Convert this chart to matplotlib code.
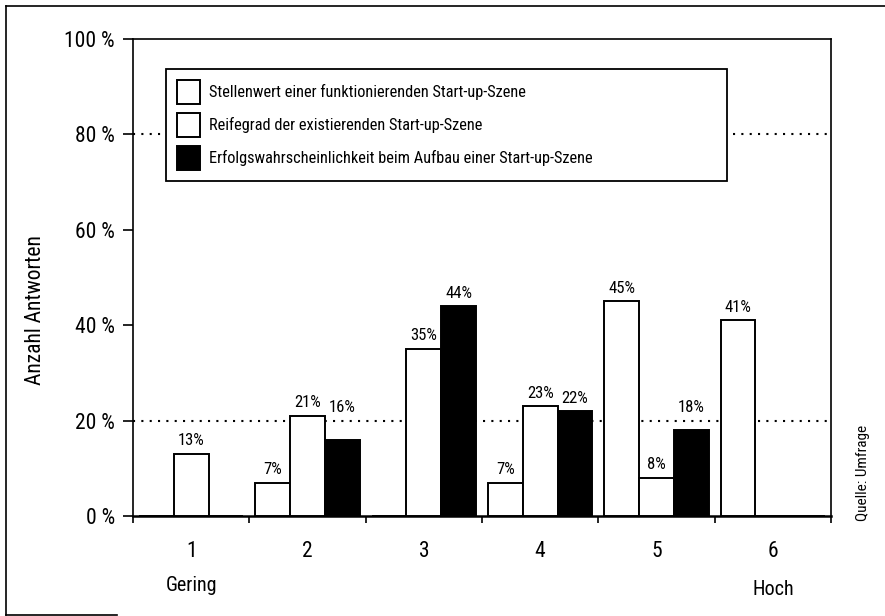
import matplotlib
matplotlib.use('Agg')
import matplotlib.pyplot as plt
from matplotlib.lines import Line2D
import numpy as np

groups = ['1', '2', '3', '4', '5', '6']
stellenwert = [0, 7, 0, 7, 45, 41]   # Stellenwert einer funktionierenden Start-up-Szene
reifegrad = [13, 21, 35, 23, 8, 0]   # Reifegrad der existierenden Start-up-Szene
erfolg = [0, 16, 44, 22, 18, 0]      # Erfolgswahrscheinlichkeit beim Aufbau
series_labels = ['Stellenwert einer funktionierenden Start-up-Szene',
                 'Reifegrad der existierenden Start-up-Szene',
                 'Erfolgswahrscheinlichkeit beim Aufbau einer Start-up-Szene']
y_ticks = [0, 20, 40, 60, 80, 100]
y_ticklabels = ['0 %', '20 %', '40 %', '60 %', '80 %', '100 %']

plt.rcParams['font.family'] = ['Roboto Condensed', 'Liberation Sans', 'DejaVu Sans']

fig = plt.figure(figsize=(8.85, 6.16), dpi=100)
ax = fig.add_axes([133 / 885, 1 - 516 / 616, 698 / 885, 477 / 616])

x = np.arange(1, len(groups) + 1)
w = 0.298
all_series = [stellenwert, reifegrad, erfolg]
colors = ['white', 'white', 'black']
offsets = [-w, 0, w]
for vals, col, off, lab in zip(all_series, colors, offsets, series_labels):
    ax.bar(x + off, vals, w, color=col, edgecolor='black', linewidth=1.4, label=lab, zorder=3)
    for xi, v in zip(x, vals):
        if v == 0:
            continue
        yv = v
        if 14 <= v < 20:  # Beschriftung über die gepunktete Linie setzen
            yv = 20
        ax.annotate('%d%%' % v, (xi + off, yv), xytext=(0, 4), textcoords='offset points',
                    ha='center', va='bottom', fontsize=12, zorder=4)

# gepunktete Hilfslinien
for gy in [20, 80]:
    ax.axhline(gy, color='black', linewidth=1.5, linestyle=(0, (1, 3)), zorder=1)

ax.set_xlim(0.5, 6.5)
ax.set_ylim(0, 100)
ax.set_yticks(y_ticks)
ax.set_yticklabels(y_ticklabels, fontsize=15.5)
ax.set_xticks(np.arange(0.5, 7, 1))
ax.set_xticklabels([])
ax.set_xticks(x, minor=True)
ax.set_xticklabels(groups, minor=True, fontsize=15.5)
ax.tick_params(axis='x', which='major', length=5, width=1.2, direction='out')
ax.tick_params(axis='x', which='minor', length=0, pad=18)
ax.tick_params(axis='y', length=7, width=1.2, direction='out', pad=6)
ax.set_ylabel('Anzahl Antworten', fontsize=15.5)
ax.yaxis.set_label_coords(-0.125, 0.432)

for side in ['top', 'right', 'left']:
    ax.spines[side].set_linewidth(1.2)
ax.spines['bottom'].set_linewidth(1.8)

ax.text(1, -0.145, 'Gering', transform=ax.get_xaxis_transform(), ha='center', va='center', fontsize=14.5)
ax.text(6, -0.155, 'Hoch', transform=ax.get_xaxis_transform(), ha='center', va='center', fontsize=14.5)

leg = ax.legend(loc='upper left', bbox_to_anchor=(33 / 698, 447 / 477 - 0.01, 561 / 698, 0.01),
                mode='expand', borderaxespad=0, fancybox=False, frameon=True,
                edgecolor='black', framealpha=1, fontsize=11.8, handlelength=1.4,
                handleheight=1.95, handletextpad=0.6, labelspacing=0.5, borderpad=0.65)
leg.get_frame().set_linewidth(1.3)
leg.set_zorder(5)

fig.text(863 / 885, 1 - 473 / 616, 'Quelle: Umfrage', rotation=90, ha='center', va='center', fontsize=11)

# Rahmen des Scans
fig.add_artist(Line2D([6 / 885, 6 / 885], [1 - 615 / 616, 1 - 6 / 616], color='black', linewidth=1.2))
fig.add_artist(Line2D([6 / 885, 1], [1 - 6 / 616, 1 - 6 / 616], color='black', linewidth=1.2))
fig.add_artist(Line2D([6 / 885, 117 / 885], [1 - 615 / 616, 1 - 615 / 616], color='black', linewidth=1.2))

plt.savefig('out.png', dpi=100)
